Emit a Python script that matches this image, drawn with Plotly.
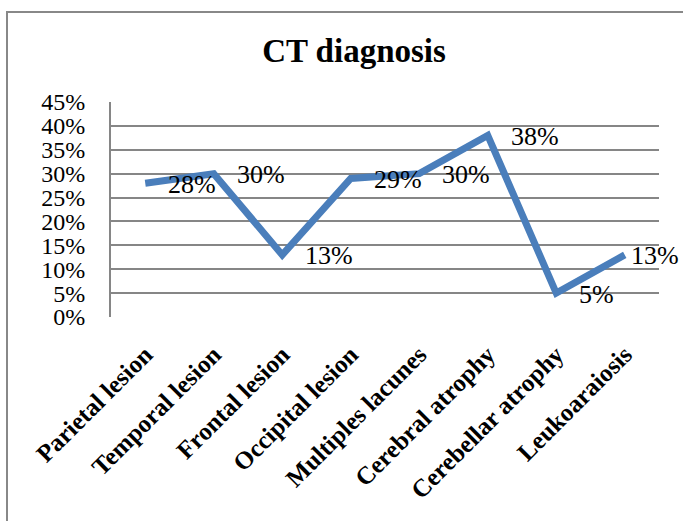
import plotly.graph_objects as go

categories = ["Parietal lesion", "Temporal lesion", "Frontal lesion", "Occipital lesion",
              "Multiples lacunes", "Cerebral atrophy", "Cerebellar atrophy", "Leukoaraiosis"]
values = [0.28, 0.30, 0.13, 0.29, 0.30, 0.38, 0.05, 0.13]
y_ticks = [0, 0.05, 0.10, 0.15, 0.20, 0.25, 0.30, 0.35, 0.40, 0.45]
y_tick_labels = ["0%", "5%", "10%", "15%", "20%", "25%", "30%", "35%", "40%", "45%"]

W, H = 683, 521
ML, MR, MT, MB = 111, 24, 102, 204
PW, PH = W - ML - MR, H - MT - MB

FONT = "Liberation Serif, Times New Roman, serif"
GRID = "#868686"

fig = go.Figure()
fig.add_trace(go.Scatter(
    x=list(range(len(categories))), y=values, mode="lines",
    line=dict(color="#4a7ebb", width=7), hoverinfo="skip", showlegend=False,
))

for i, v in enumerate(values):
    shift = 21 if i < len(values) - 1 else 4
    fig.add_annotation(x=i, y=v, xref="x", yref="y", text=f"{round(v*100)}%",
                       showarrow=False, xanchor="left", yanchor="middle",
                       xshift=shift, yshift=-1,
                       font=dict(family=FONT, size=26, color="black"))

# outer chart border (top and left)
bx = (7 - ML) / PW
by = 1 + (MT - 12) / PH
fig.add_shape(type="path", xref="paper", yref="paper",
              path=f"M {bx} -2 L {bx} {by} L 2 {by}",
              line=dict(color="#888888", width=2))

fig.update_layout(
    width=W, height=H,
    margin=dict(l=ML, r=MR, t=MT, b=MB, autoexpand=False),
    paper_bgcolor="white", plot_bgcolor="white",
    title=dict(text="<b>CT diagnosis</b>", x=354 / W, xanchor="center",
               y=1 - 50 / H, yanchor="middle", yref="container",
               font=dict(family=FONT, size=33, color="black")),
    xaxis=dict(range=[-0.5, len(categories) - 0.5],
               tickmode="array", tickvals=list(range(len(categories))), ticktext=categories,
               tickangle=-45, showgrid=False, zeroline=False, showline=False,
               ticks="", ticklabelstandoff=17,
               tickfont=dict(family=FONT, size=25, color="black", weight="bold")),
    yaxis=dict(range=[0, 0.45], tickmode="array", tickvals=y_ticks, ticktext=y_tick_labels,
               showgrid=True, gridcolor=GRID, gridwidth=2, zeroline=False,
               showline=True, linecolor=GRID, linewidth=2, mirror=False,
               ticks="", ticklabelstandoff=19,
               tickfont=dict(family=FONT, size=24, color="black")),
)

fig.write_html("out.html", config={"displayModeBar": False},
               post_script="document.body.style.margin='0';document.body.style.overflow='hidden';")
